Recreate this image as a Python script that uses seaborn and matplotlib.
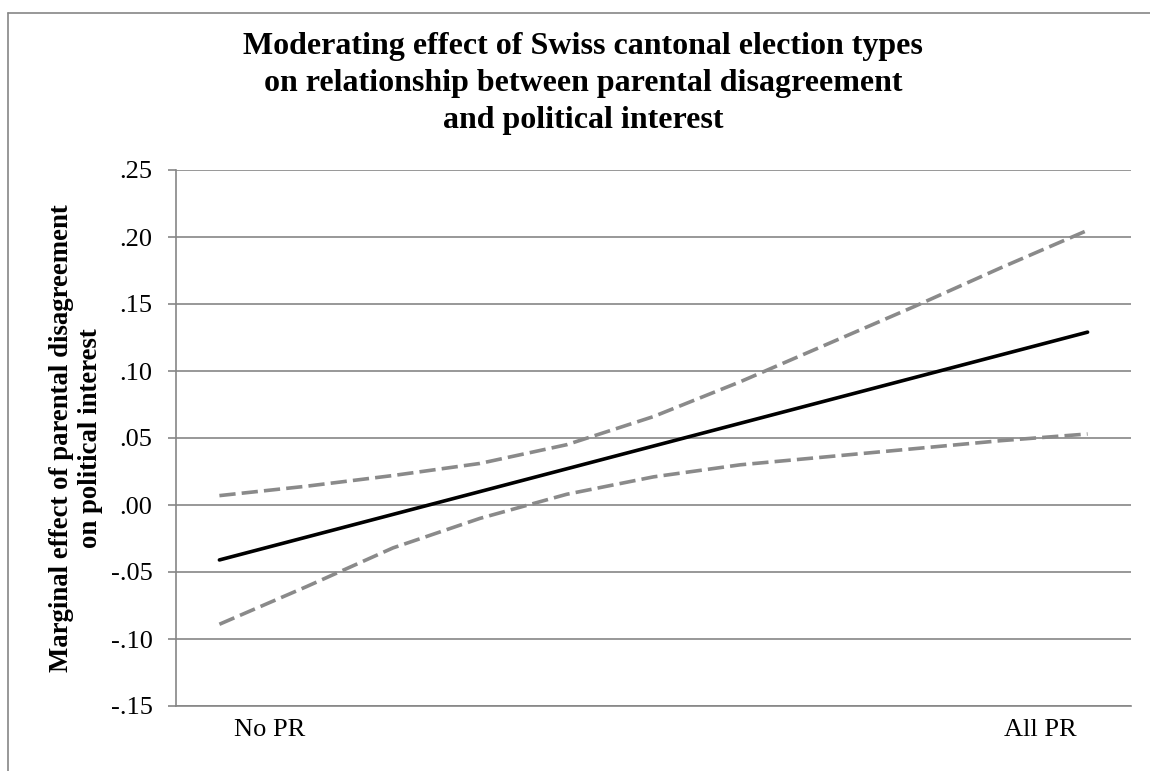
import numpy as np
import pandas as pd
import seaborn as sns
import matplotlib
matplotlib.use("Agg")
import matplotlib.pyplot as plt
from matplotlib.lines import Line2D
from matplotlib.transforms import ScaledTranslation

# Category axis: share of PR elections, only the end points are labelled
categories = ["No PR", "", "", "", "", "", "", "", "", "", "All PR"]

# Marginal effect of parental disagreement and its confidence bounds
marginal_effect = [-0.041, -0.024, -0.007, 0.010, 0.027, 0.044, 0.061, 0.078, 0.095, 0.112, 0.129]
upper_bound = [0.007, 0.014, 0.022, 0.031, 0.045, 0.066, 0.092, 0.120, 0.148, 0.177, 0.205]
lower_bound = [-0.089, -0.061, -0.032, -0.010, 0.008, 0.021, 0.030, 0.036, 0.042, 0.048, 0.053]

y_ticks = [-0.15, -0.10, -0.05, 0.00, 0.05, 0.10, 0.15, 0.20, 0.25]
y_tick_labels = ["-.15", "-.10", "-.05", ".00", ".05", ".10", ".15", ".20", ".25"]

title = ("Moderating effect of Swiss cantonal election types\n"
         "on relationship between parental disagreement\n"
         "and political interest")
y_label = "Marginal effect of parental disagreement\non political interest"

sns.set_theme(style="white")
plt.rcParams["font.family"] = ["Liberation Serif", "DejaVu Serif"]

GRID = "#868686"
W, H = 1150, 771
fig = plt.figure(figsize=(W / 100, H / 100), dpi=100)
ax = fig.add_axes([176 / W, 1 - 706 / H, (1131 - 176) / W, (706 - 170) / H])

pos = np.arange(len(categories))
df = pd.DataFrame({"pos": pos, "me": marginal_effect,
                   "hi": upper_bound, "lo": lower_bound})

ax.set_ylim(y_ticks[0], y_ticks[-1])
ax.set_yticks(y_ticks)
ax.set_yticklabels(y_tick_labels)
ax.yaxis.grid(True, color=GRID, linewidth=1.2)
ax.set_axisbelow(True)

sns.lineplot(data=df, x="pos", y="hi", ax=ax, color="#8a8a8a",
             linewidth=2.6, zorder=3).lines[-1].set_dashes([4.5, 1.7])
sns.lineplot(data=df, x="pos", y="lo", ax=ax, color="#8a8a8a",
             linewidth=2.6, zorder=3).lines[-1].set_dashes([4.5, 1.7])
sns.lineplot(data=df, x="pos", y="me", ax=ax, color="black",
             linewidth=2.6, zorder=4)
for ln in ax.lines:
    ln.set_solid_capstyle("round")
    ln.set_solid_joinstyle("round")
    ln.set_dash_capstyle("butt")

ax.set_xlim(-0.5, len(categories) - 0.5)
ax.set_xticks(pos)
ax.set_xticklabels(categories)
ax.set_xlabel("")
ax.set_ylabel("")

for s in ["top", "right"]:
    ax.spines[s].set_visible(False)
for s in ["left", "bottom"]:
    ax.spines[s].set_color(GRID)
    ax.spines[s].set_linewidth(1.2)

ax.tick_params(axis="y", which="major", left=True, length=6, width=1.2,
               color=GRID, pad=11, labelsize=19, labelcolor="black")
ax.tick_params(axis="x", which="major", bottom=False, length=0, pad=9,
               labelsize=19, labelcolor="black")

# shift the two end labels inward, as in the category layout of the chart
labels = ax.get_xticklabels()
labels[0].set_transform(labels[0].get_transform() +
                        ScaledTranslation(0.50, 0, fig.dpi_scale_trans))
labels[-1].set_transform(labels[-1].get_transform() +
                         ScaledTranslation(-0.47, 0, fig.dpi_scale_trans))

fig.text(583 / W, 1 - 32 / H, title, ha="center", va="top", fontsize=23,
         fontweight="bold", linespacing=1.36, color="black")
fig.text(76 / W, 1 - 438 / H, y_label, ha="center", va="center", rotation=90,
         fontsize=19.3, fontweight="bold", linespacing=1.22, multialignment="center",
         color="black")

# chart area border (left and top edges)
fig.add_artist(Line2D([8 / W, 8 / W], [0, 1 - 13 / H], color=GRID, linewidth=1.2))
fig.add_artist(Line2D([8 / W, 1], [1 - 13 / H, 1 - 13 / H], color=GRID, linewidth=1.2))

fig.savefig("out.png", dpi=100, facecolor="white")
